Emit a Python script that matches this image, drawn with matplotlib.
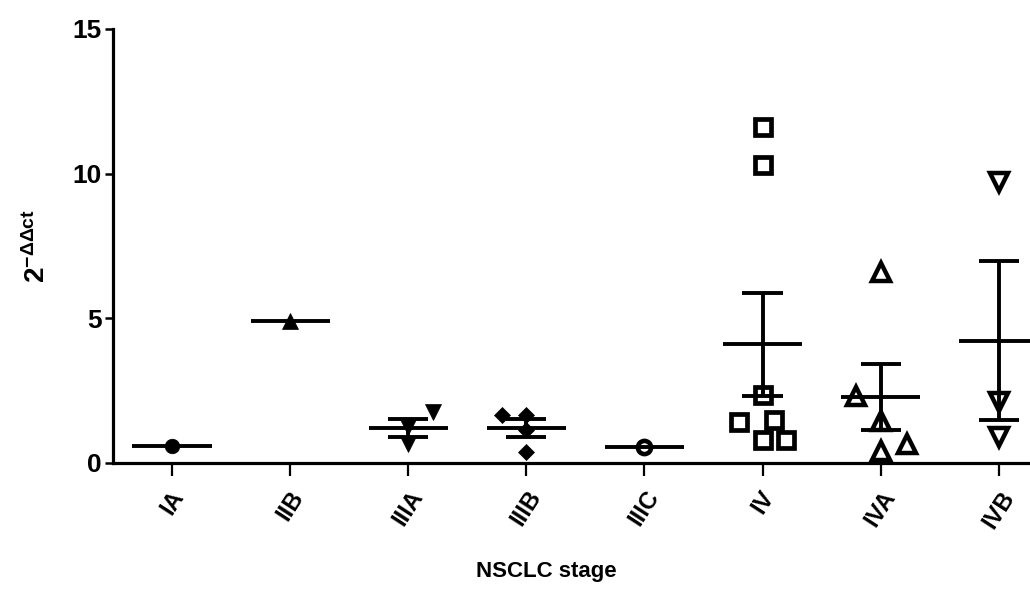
import numpy as np
import matplotlib
matplotlib.use("Agg")
import matplotlib.pyplot as plt

# 2^-ddct values per NSCLC stage
stages = ["IA", "IIB", "IIIA", "IIIB", "IIIC", "IV", "IVA", "IVB"]
vals_IA = [0.6]
vals_IIB = [4.9]
vals_IIIA = [1.75, 1.25, 0.65]
vals_IIIB = [1.65, 1.65, 1.15, 0.37]
vals_IIIC = [0.55]
vals_IV = [11.6, 10.3, 2.35, 1.5, 1.4, 0.8, 0.8]
vals_IVA = [6.6, 2.3, 1.45, 0.65, 0.4]
vals_IVB = [9.7, 2.1, 0.9]

groups = [vals_IA, vals_IIB, vals_IIIA, vals_IIIB, vals_IIIC, vals_IV, vals_IVA, vals_IVB]

# horizontal spread of overlapping points (category units)
spread = [
    [0.0],
    [0.0],
    [0.21, 0.0, 0.0],
    [-0.21, 0.0, 0.0, 0.0],
    [0.0],
    [0.0, 0.0, 0.0, 0.1, -0.2, 0.0, 0.2],
    [0.0, -0.21, 0.0, 0.22, 0.0],
    [0.0, 0.0, 0.0],
]

# marker style per column: (marker, size, filled, edge width)
styles = [
    ("o", 10.5, True, 0),
    ("^", 11, True, 0),
    ("v", 11, True, 0),
    ("D", 8.5, True, 0),
    ("o", 9.5, False, 3.3),
    ("s", 11, False, 3.4),
    ("^", 12.5, False, 3.2),
    ("v", 12.5, False, 3.2),
]

plt.rcParams["font.family"] = ["Liberation Sans", "DejaVu Sans"]
plt.rcParams["font.weight"] = "bold"
plt.rcParams["mathtext.fontset"] = "custom"
plt.rcParams["mathtext.rm"] = "Liberation Sans"
plt.rcParams["mathtext.bf"] = "Liberation Sans:bold"

fig = plt.figure(figsize=(10.3, 5.97), dpi=100)
ax = fig.add_axes([113 / 1030, 1 - 463 / 597, 1 - 113 / 1030, (463 - 29) / 597])

lw = 2.8
for i, vals in enumerate(groups):
    v = np.array(vals)
    x = i + np.array(spread[i])
    m, ms, filled, mew = styles[i]
    ax.plot(x, v, linestyle="none", marker=m, markersize=ms,
            markerfacecolor="black" if filled else "white",
            markeredgecolor="black", markeredgewidth=mew if not filled else 0.5,
            zorder=3)
    mean = v.mean()
    ax.plot([i - 0.335, i + 0.335], [mean, mean], color="black", lw=lw,
            solid_capstyle="butt", zorder=4)
    if len(v) > 1:
        sem = v.std(ddof=1) / np.sqrt(len(v))
        ax.plot([i, i], [mean - sem, mean + sem], color="black", lw=lw,
                solid_capstyle="butt", zorder=4)
        for yy in (mean - sem, mean + sem):
            ax.plot([i - 0.17, i + 0.17], [yy, yy], color="black", lw=lw,
                    solid_capstyle="butt", zorder=4)

ax.set_xlim(-0.5, 7.265)
ax.set_ylim(0, 15)
ax.set_yticks([0, 5, 10, 15])
ax.set_xticks(range(len(stages)))
ax.set_xticklabels(stages, rotation=57, ha="center", va="top", fontsize=17,
                   fontweight="bold")
for lab in ax.get_yticklabels():
    lab.set_fontsize(19)
    lab.set_fontweight("bold")

for s in ("top", "right"):
    ax.spines[s].set_visible(False)
for s in ("left", "bottom"):
    ax.spines[s].set_linewidth(2.3)
    ax.spines[s].set_clip_on(False)
ax.tick_params(axis="y", length=6, width=1.8, pad=2)
ax.tick_params(axis="x", length=9, width=1.6, pad=8)

ax.set_ylabel(r"$\mathbf{2^{-ΔΔct}}$", fontsize=20)
ax.yaxis.set_label_coords(-0.068, 0.5)
fig.text(546 / 1030, 1 - 572 / 597, "NSCLC stage", ha="center", va="center",
         fontsize=16, fontweight="bold")

fig.savefig("out.png", dpi=100)
